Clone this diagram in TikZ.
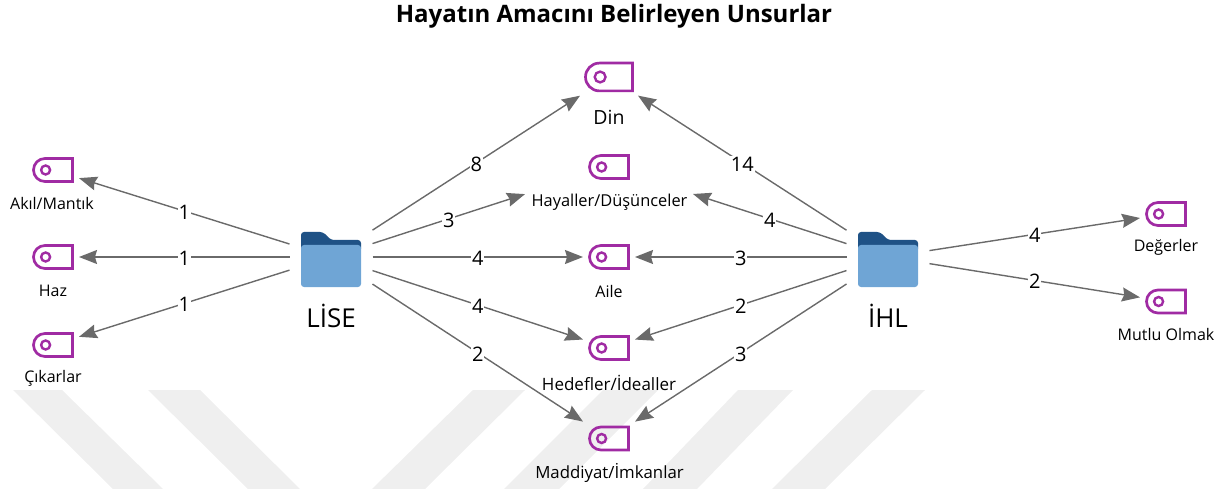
\documentclass[tikz,border=0pt]{standalone}
\usepackage{fontspec}
\setmainfont{Open Sans}
\usetikzlibrary{arrows.meta}
\definecolor{tagpurple}{HTML}{A02BA3}
\definecolor{folderdark}{HTML}{1F5286}
\definecolor{folderlight}{HTML}{6FA5D5}
\definecolor{edgegray}{HTML}{6A6A6A}
\definecolor{wmark}{HTML}{EFEFEF}
\tikzset{
  x=1pt,y=-1pt,
  hub/.style={minimum width=83pt,minimum height=60pt,inner sep=0pt,outer sep=0pt},
  slot/.style={minimum width=52pt,minimum height=60pt,inner sep=0pt,outer sep=0pt},
  slotbig/.style={minimum width=58pt,minimum height=60pt,inner sep=0pt,outer sep=0pt},
  slotwide/.style={minimum width=168pt,minimum height=60pt,inner sep=0pt,outer sep=0pt},
  link/.style={draw=edgegray,line width=1.4pt,-{Stealth[length=18pt,width=14pt,inset=2pt,fill=edgegray]}},
  count/.style={fill=white,inner sep=1pt,font=\fontsize{20}{20}\selectfont,text=black,text height=14pt,text depth=0pt,yshift=-1.5pt},
  caption/.style={font=\fontsize{16}{16}\selectfont,text=black,inner sep=0pt},
  hubcaption/.style={font=\fontsize{26}{26}\selectfont,text=black,inner sep=0pt},
  tagline/.style={draw=tagpurple,line width=2.7pt,line join=miter},
}
\newcommand{\tagicon}[3]{% x, y, half-width
  \pgfmathsetmacro{\hh}{#3*0.6-0.5}
  \pgfmathsetmacro{\rr}{#3*0.225}
  \path[tagline] (#1+#3-0.5,#2-\hh) -- (#1-#3+\hh+0.5,#2-\hh) arc[start angle=90,end angle=270,radius=\hh pt]
     -- (#1+#3-0.5,#2+\hh) -- cycle;
  \draw[tagpurple,line width=2.4pt] (#1-#3*0.37,#2) circle[radius=\rr pt];
}
\newcommand{\foldericon}[2]{% x, y centre
  \fill[folderdark,rounded corners=3pt] (#1-30,#2-27.5) -- (#1-8,#2-27.5) -- (#1,#2-19.5) -- (#1+30,#2-19.5) -- (#1+30,#2-8) -- (#1-30,#2-8) -- cycle;
  \fill[folderlight,rounded corners=3pt] (#1-30,#2-14.5) -- (#1+30,#2-14.5) -- (#1+30,#2+27.5) -- (#1-30,#2+27.5) -- cycle;
}
\begin{document}
\begin{tikzpicture}
\useasboundingbox (0,0) rectangle (1229,489);
% watermark
\fill[wmark] (13,390) -- (62,390) -- (163,489) -- (113,489) -- cycle;
\fill[wmark] (148,390) -- (200,390) -- (300,489) -- (248,489) -- cycle;
\fill[wmark] (473,390) -- (525,390) -- (425,489) -- (372,489) -- cycle;
\fill[wmark] (603,390) -- (658,390) -- (559,489) -- (504,489) -- cycle;
\fill[wmark] (738,390) -- (793,390) -- (697,489) -- (643,489) -- cycle;
\fill[wmark] (872,390) -- (925,390) -- (825,489) -- (772,489) -- cycle;
% title
\node[font=\fontsize{24}{24}\selectfont\bfseries,inner sep=0pt] (title) at (614,16) {Hayatın Amacını Belirleyen Unsurlar};
% hubs
\node[hub] (lise) at (331,257) {};
\node[hub] (ihl) at (888,257) {};
\foldericon{331}{259.5}
\foldericon{888}{259.5}
\node[hubcaption] (lisecap) at (331,316) {LİSE};
\node[hubcaption] (ihlcap) at (888,316) {İHL};
% targets
\node[slotbig] (din) at (609,77) {};
\node[slotwide] (hayal) at (609,167) {};
\node[slot] (aile) at (609,257) {};
\node[slot] (hedef) at (609,348) {};
\node[slot] (madde) at (609,438.5) {};
\node[slot] (akil) at (53,170) {};
\node[slot] (haz) at (53,257) {};
\node[slot] (cikar) at (53,345) {};
\node[slot] (deger) at (1166,214) {};
\node[slot] (mutlu) at (1166,301.5) {};
\tagicon{609}{77}{24}
\tagicon{609}{167}{20}
\tagicon{609}{257}{20}
\tagicon{609}{348}{20}
\tagicon{609}{438.5}{20}
\tagicon{53}{170}{20}
\tagicon{53}{257}{20}
\tagicon{53}{345}{20}
\tagicon{1166}{214}{20}
\tagicon{1166}{301.5}{20}
% captions
\node[caption,font=\fontsize{19.5}{19.5}\selectfont] (dincap) at (609,117) {Din};
\node[caption,font=\fontsize{16.4}{16.4}\selectfont] (hayalcap) at (609.5,202.5) {Hayaller/Düşünceler};
\node[caption] (ailecap) at (609,292) {Aile};
\node[caption,font=\fontsize{17}{17}\selectfont] (hedefcap) at (609,383) {Hedefler/İdealler};
\node[caption,font=\fontsize{16.8}{16.8}\selectfont] (maddecap) at (609.5,473) {Maddiyat/İmkanlar};
\node[caption] (akilcap) at (52,203.5) {Akıl/Mantık};
\node[caption] (hazcap) at (53,291) {Haz};
\node[caption] (cikarcap) at (53,378.5) {Çıkarlar};
\node[caption] (degercap) at (1166,247) {Değerler};
\node[caption] (mutlucap) at (1166,334.5) {Mutlu Olmak};
% links
\draw[link] (lise) -- node[count] {1} (akil);
\draw[link] (lise) -- node[count] {1} (haz);
\draw[link] (lise) -- node[count] {1} (cikar);
\draw[link] (lise) -- node[count] {8} (din);
\draw[link] (lise) -- node[count] {3} (hayal);
\draw[link] (lise) -- node[count] {4} (aile);
\draw[link] (lise) -- node[count] {4} (hedef);
\draw[link] (lise) -- node[count] {2} (madde);
\draw[link] (ihl) -- node[count] {14} (din);
\draw[link] (ihl) -- node[count] {4} (hayal);
\draw[link] (ihl) -- node[count] {3} (aile);
\draw[link] (ihl) -- node[count] {2} (hedef);
\draw[link] (ihl) -- node[count] {3} (madde);
\draw[link] (ihl) -- node[count] {4} (deger);
\draw[link] (ihl) -- node[count] {2} (mutlu);
\end{tikzpicture}
\end{document}
